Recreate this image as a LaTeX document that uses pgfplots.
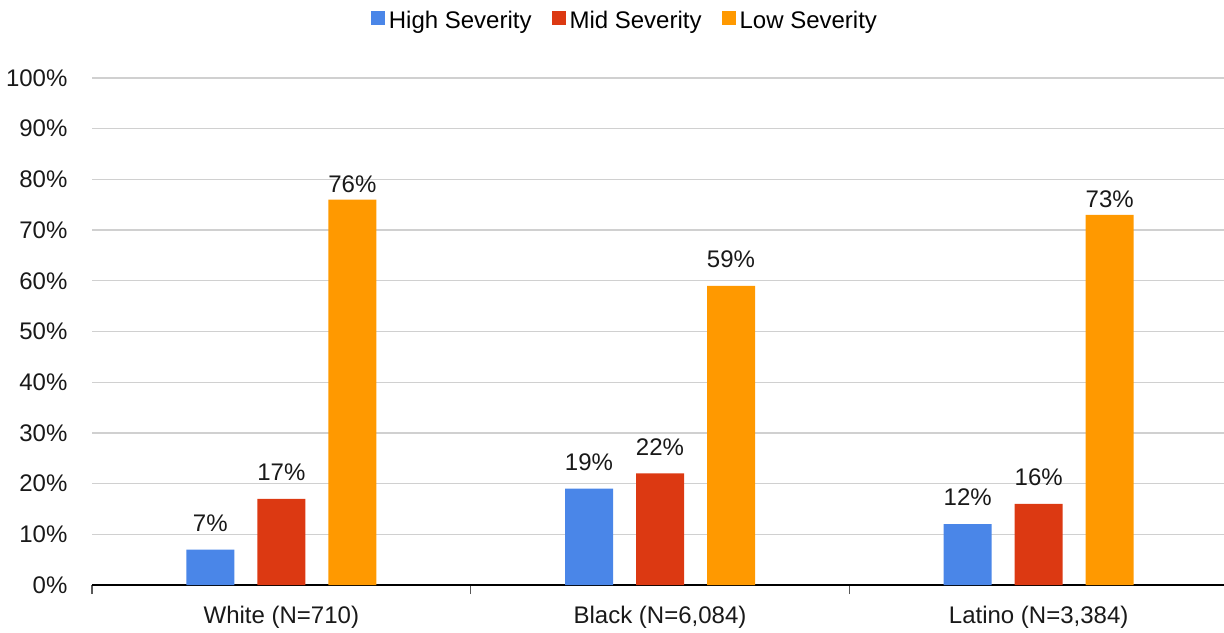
\documentclass[border=0pt]{standalone}
\usepackage{pgfplots}
\pgfplotsset{compat=1.18}
\usepackage{fontspec}
\setmainfont{Liberation Sans}
\definecolor{cHigh}{HTML}{4A86E8}
\definecolor{cMid}{HTML}{DC3912}
\definecolor{cLow}{HTML}{FF9900}
\definecolor{gridc}{HTML}{D0D0D0}
\begin{document}
\begin{tikzpicture}
\begin{axis}[
  name=ax,
  scale only axis,
  width=568pt, height=253.5pt,
  ybar, bar width=24pt,
  ymin=0, ymax=100,
  xmin=-0.5, xmax=2.5,
  axis x line=bottom, axis y line=left,
  axis line style={-},
  y axis line style={draw=none},
  x axis line style={black, line width=0.8pt},
  xtick={-0.5,0.5,1.5,2.5},
  xticklabels={},
  x tick style={draw=gray!70!black, line width=0.6pt},
  xtick align=outside,
  major tick length=4.5pt,
  extra x ticks={0,1,2},
  extra x tick labels={White (N=710),Black (N=6{,}084),Latino (N=3{,}384)},
  extra x tick style={grid=none, major tick length=0pt},
  ytick={0,10,...,100},
  yticklabels={0\%,10\%,20\%,30\%,40\%,50\%,60\%,70\%,80\%,90\%,100\%},
  y tick style={draw=none},
  ymajorgrids,
  grid style={gridc, line width=0.6pt},
  tick label style={font=\fontsize{12}{14}\selectfont, text=black!90},
  y tick label style={xshift=-6.5pt},
  x tick label style={yshift=-7pt},
  visualization depends on={y \as \rawy},
  nodes near coords={\pgfmathprintnumber[assume math mode=true]{\pgfplotspointmeta}\%},
  every node near coord/.append style={font=\fontsize{12}{14}\selectfont, text=black!90,
     yshift={(\rawy>70 ? 0 : 5.5)*1pt}},
  legend columns=3,
  legend style={at={(0.47,1.112)}, anchor=center, draw=none, fill=none,
    font=\fontsize{12}{14}\selectfont, inner sep=0pt,
    /tikz/every even column/.append style={column sep=8pt}},
  legend cell align=left,
  legend image code/.code={\path[#1, draw=none] (0pt,-2pt) rectangle (7pt,5pt);},
]
\addplot[fill=cHigh, draw=none, bar shift=-35.5pt] coordinates {(0,7) (1,19) (2,12)};
\addplot[fill=cMid, draw=none, bar shift=0pt] coordinates {(0,17) (1,22) (2,16)};
\addplot[fill=cLow, draw=none, bar shift=35.5pt] coordinates {(0,76) (1,59) (2,73)};
\legend{High Severity, Mid Severity, Low Severity}
\end{axis}
\pgfresetboundingbox
\path (ax.south west) ++(-46pt,-23.5pt) rectangle ++(612pt,316pt);
\end{tikzpicture}
\end{document}
